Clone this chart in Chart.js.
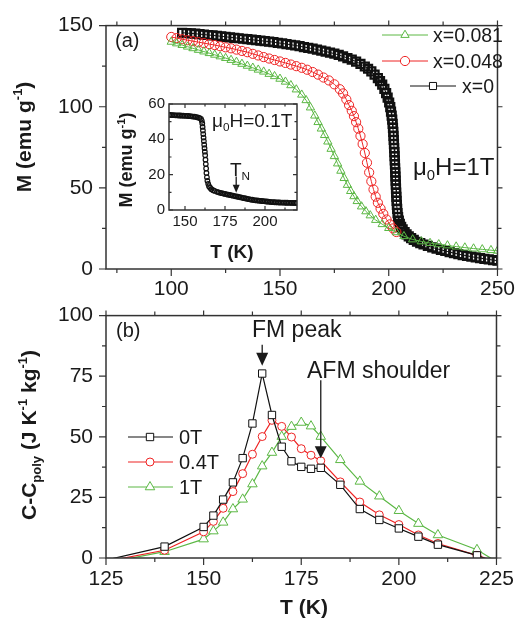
<!DOCTYPE html>
<html><head><meta charset="utf-8">
<script src="https://cdn.jsdelivr.net/npm/chart.js@4.4.1/dist/chart.umd.min.js"></script>
<style>
html,body{margin:0;padding:0;background:#fff;}
#wrap{position:relative;width:523px;height:619px;overflow:hidden;background:#fff;}
canvas{position:absolute;}
</style></head><body>
<div id="wrap">
<canvas id="cA" width="523" height="320" style="left:0;top:0;width:523px;height:320px"></canvas>
<canvas id="cB" width="523" height="329" style="left:0;top:290px;width:523px;height:329px"></canvas>
<canvas id="cI" width="210" height="175" style="left:100px;top:90px;width:210px;height:175px"></canvas>
</div>
<script>
// ---------- Panel (a): M vs T at 1 T ----------
const aGreenT = [100,102.5,105,107.5,110,112.5,115,117.5,120,122.5,125,127.5,130,132.5,135,137.5,140,142.5,145,147.5,150,152.5,155,157.5,160,
  162,164,166,167.5,169,170.5,172,173.5,175,176.5,178,179.5,181,182.5,184,185.5,187.5,189.5,191.5,194,197,200,203.5,207,211,
  215,219,223,227,231,235,239,243,247,250];
const aGreenM = [140,139,138,137,136,135,134,133,132,131,130,128.8,127.6,126.4,125.2,124,122.8,121.6,120.2,118.8,117.2,115.4,113.2,110.6,107.4,
  104,99.5,94.5,90.5,86.5,82.5,78.5,74,69.5,65,60.5,56,51.8,48,44.8,41.8,38.5,35.5,33,30.2,27.6,25.2,22.6,20.2,18.2,
  17,16,15.2,14.5,13.8,13.2,12.6,12.1,11.6,11.2];

const aRedT = [100,102.5,105,107.5,110,112.5,115,117.5,120,122.5,125,127.5,130,132.5,135,137.5,140,142.5,145,147.5,150,152.5,155,157.5,160,162.5,165,167.5,170,172.5,175,177.5,
  179,180.5,181.75,183,184,185,186,187,188,189,190,191,192,193,194,195,196.25,197.5,199,200.5,202,203.5];
const aRedM = [143,142.3,141.6,141,140.4,139.8,139.2,138.6,138,137.3,136.6,136,135.2,134.4,133.6,132.6,131.6,130.6,129.7,128.8,127.9,127,126,125,124,122.8,121.4,119.8,118,116.2,113.8,110.8,
  108.2,104.5,101,97.5,94.2,90.5,86.5,82,77,71.5,65.5,59.5,54,49,44.6,40.8,37.2,34,30.5,27.5,25,22.8];

const aBlackT = [105,107,109,111,113,115,117,119,121,123,125,127,129,131,133,135,137,139,141,143,145,147,149,151,153,155,157,159,161,163,165,167,169,171,173,175,177,179,181,183,185,187,189,190.5,192,193.5,195,196,197,198,198.8,199.5,
  200.2,200.7,201.05,201.35,201.6,201.8,201.95,202.1,202.2,202.3,202.4,202.5,202.6,202.7,202.78,202.86,202.94,203.02,203.1,203.18,203.26,203.34,203.42,203.52,203.62,203.74,203.88,204.05,204.3,204.65,205.1,205.7,206.4,
  207.3,208.2,209.2,210.3,211.5,213,214.5,216,218,220,222,224,226,228,230,232,234,236,238,240,242,244,246,248,250];
const aBlackM = [145.6,145.4,145.2,145,144.7,144.5,144.2,144,143.7,143.4,143.1,142.8,142.5,142.2,141.9,141.6,141.3,141,140.7,140.4,140.1,139.8,139.4,139,138.6,138.2,137.8,137.3,136.8,136.3,135.8,135.2,134.6,134,133.4,132.7,131.9,131,130,129,127.8,126.4,124.8,123.4,121.8,119.8,117.6,115.8,113.6,111,108.4,105.6,
  102.6,99.8,97,94.5,92,89.5,87,84.5,82,79.5,77,74.5,72,69.5,67,64.5,62,59.5,57,54.5,52,49.5,47,44.5,42,39.5,37,34.5,32,29.8,27.8,26,24.4,
  22.8,21.4,20.1,19,17.9,16.8,15.9,15.1,14.2,13.3,12.5,11.8,11.1,10.4,9.8,9.2,8.6,8.1,7.6,7.1,6.7,6.3,5.9,5.5,5.1];

const aLabels = ['x=0.081','x=0.048','x=0'];
const aXTicks = [100,150,200,250], aXMinor = [75,125,175,225];
const aYTicks = [0,50,100,150], aYMinor = [25,75,125];

// ---------- Inset: M vs T at 0.1 T ----------
const iT = [140,141,142,143,144,145,146,147,148,149,150,151,152,153,154,155,156,157,158,159,160,
  160.5,160.8,161,161.2,161.4,161.6,161.8,162,162.2,162.4,162.6,162.8,163,163.2,163.4,163.7,164,164.5,165,165.7,166.5,167.5,168.5,
  170,171,172,173,174,175,176,177,178,179,180,181,182,183,184,185,186,187,188,189,190,191,192,193,194,195,196,197,198,199,200,
  201,202,203,204,205,206,207,208,209,210,211,212,213,214,215,216,217,218,219,220];
const iM = [53.8,53.8,53.7,53.7,53.6,53.6,53.5,53.5,53.4,53.4,53.3,53.3,53.2,53.1,53,52.9,52.8,52.6,52.4,52.1,51.6,
  50.5,49,47,45,43,41,39,37,35,33,31,28.5,26,23.5,21,18.5,16.5,14.8,13.5,12.6,11.8,11.2,10.8,
  10.3,10,9.7,9.5,9.3,9.1,8.9,8.7,8.5,8.3,8.1,7.9,7.7,7.5,7.3,7.1,6.9,6.7,6.5,6.3,6.1,5.9,5.8,5.6,5.5,5.4,5.3,5.2,5.1,5,4.9,
  4.8,4.7,4.6,4.5,4.45,4.4,4.35,4.3,4.25,4.2,4.2,4.15,4.1,4.1,4.05,4.05,4,4,4,4];
const iXTicks = [150,175,200], iXMinor = [162.5,187.5,212.5];
const iYTicks = [0,20,40,60], iYMinor = [10,30,50];

// ---------- Panel (b): C - Cpoly vs T ----------
const bT0 = [126,140,150,152.5,155,157.5,160,162.5,165,167.5,170,172.5,175,177.5,180,185,190,195,200,205,210,220,222.5];
const bC0 = [-0.5,4.7,12.8,17.5,24.1,31.2,41.2,55.5,76.1,59,45.9,39.9,37.6,36.8,37.2,30.2,20.2,15.7,12.2,8.8,5.5,1.1,-0.5];
const bT04 = [128,140,150,152.5,155,157.5,160,162.5,165,167.5,170,172.5,175,177.5,180,185,190,195,200,205,210,220,223];
const bC04 = [-0.5,3.2,10.8,15.1,20.5,27.4,34.8,42.8,50.1,56.8,54.3,49.9,45.1,42.4,40.1,31.4,23.1,17.8,13.8,9.5,6,1.1,-0.5];
const bT1 = [130,140,150,152.5,155,157.5,160,162.5,165,167.5,170,172.5,175,177.5,180,185,190,195,200,205,210,220,224];
const bC1 = [-0.5,2.6,7.8,11.1,14.7,20.2,24.2,30.5,37.9,43.5,50.1,54.2,55.9,54.4,50.1,40.5,31.6,25.5,19.5,14.2,9.5,3.4,-0.5];
const bLabels = ['0T','0.4T','1T'];
const bXTicks = [125,150,175,200,225], bXMinor = [137.5,162.5,187.5,212.5];
const bYTicks = [0,25,50,75,100], bYMinor = [12.5,37.5,62.5,87.5];

// ---------- styling ----------
const FAM = "'Liberation Sans', Arial, Helvetica, sans-serif";
const AX = '#333333', TXT = '#1a1a1a';
const GREEN = '#5cb845', RED = '#ee2424', BLACK = '#111111';

const pts = (xs, ys) => xs.map((t, i) => ({x: t, y: ys[i]}));

function richText(ctx, x, y, parts, size, bold, rot, align) {
  ctx.save(); ctx.translate(x, y); ctx.rotate(rot || 0);
  ctx.fillStyle = TXT;
  const f = s => (bold ? 'bold ' : '') + s + 'px ' + FAM;
  let w = 0; const ws = [];
  parts.forEach(([t, m]) => { ctx.font = f(m ? size * 0.62 : size); const ww = ctx.measureText(t).width; ws.push(ww); w += ww; });
  let cx = align === 'left' ? 0 : -w / 2;
  ctx.textAlign = 'left'; ctx.textBaseline = 'alphabetic';
  const base = size * 0.36;
  parts.forEach(([t, m], i) => {
    ctx.font = f(m ? size * 0.62 : size);
    const dy = m === 1 ? size * 0.24 : (m === 2 ? -size * 0.42 : 0);
    ctx.fillText(t, cx, base + dy); cx += ws[i];
  });
  ctx.restore();
}

function mark(ctx, style, x, y, r, color, fill) {
  ctx.save(); ctx.strokeStyle = color; ctx.lineWidth = 1; ctx.beginPath();
  if (style === 'circle') ctx.arc(x, y, r, 0, Math.PI * 2);
  else if (style === 'rect') { const s = r * Math.SQRT1_2; ctx.rect(x - s, y - s, 2 * s, 2 * s); }
  else { for (let k = 0; k < 3; k++) { const an = k * 2 * Math.PI / 3; const px = x + Math.sin(an) * r, py = y - Math.cos(an) * r; k ? ctx.lineTo(px, py) : ctx.moveTo(px, py); } ctx.closePath(); }
  if (fill) { ctx.fillStyle = fill; ctx.fill(); }
  ctx.stroke(); ctx.restore();
}

function arrowDown(ctx, x, y1, y2, hl, hw) {
  ctx.save(); ctx.strokeStyle = TXT; ctx.fillStyle = TXT; ctx.lineWidth = 1.3;
  ctx.beginPath(); ctx.moveTo(x, y1); ctx.lineTo(x, y2 - hl + 1); ctx.stroke();
  ctx.beginPath(); ctx.moveTo(x - hw / 2, y2 - hl); ctx.lineTo(x + hw / 2, y2 - hl); ctx.lineTo(x, y2); ctx.closePath(); ctx.fill();
  ctx.restore();
}

function drawFrame(chart, o) {
  const {ctx, chartArea: a, scales: {x, y}} = chart;
  ctx.save(); ctx.strokeStyle = AX; ctx.lineWidth = 1.2; ctx.beginPath();
  const s = o.out ? 1 : -1;
  const seg = (x1, y1, x2, y2) => { ctx.moveTo(x1, y1); ctx.lineTo(x2, y2); };
  const xs = (vals, L, Lt) => vals.forEach(v => { const p = x.getPixelForValue(v); seg(p, a.bottom, p, a.bottom + s * L); seg(p, a.top, p, a.top - s * Lt); });
  const ys = (vals, L, Lt) => vals.forEach(v => { const p = y.getPixelForValue(v); seg(a.left, p, a.left - s * L, p); seg(a.right, p, a.right + s * Lt, p); });
  xs(o.xMajor, o.L, o.Lt); xs(o.xMinor, o.l, o.lt);
  ys(o.yMajor, o.L, o.Lt); ys(o.yMinor, o.l, o.lt);
  ctx.stroke();
  ctx.lineWidth = 1.5; ctx.strokeRect(a.left, a.top, a.right - a.left, a.bottom - a.top);
  ctx.restore();
}

function baseOpts(o) {
  const tickFont = {family: FAM, size: o.fs};
  return {
    responsive: false, animation: false, devicePixelRatio: 1,
    layout: {padding: o.pad},
    plugins: {legend: {display: false}, tooltip: {enabled: false}},
    elements: {line: {tension: 0}},
    scales: {
      x: {type: 'linear', min: o.xmin, max: o.xmax, grid: {display: false, drawTicks: false}, border: {display: false},
        afterFit: s => { s.height = o.xh; },
        afterBuildTicks: s => { s.ticks = o.xt.map(v => ({value: v})); },
        ticks: {font: tickFont, color: TXT, padding: o.xpad, maxRotation: 0, minRotation: 0, autoSkip: false}},
      y: {type: 'linear', min: o.ymin, max: o.ymax, grid: {display: false, drawTicks: false}, border: {display: false},
        afterFit: s => { s.width = o.yw; },
        afterBuildTicks: s => { s.ticks = o.yt.map(v => ({value: v})); },
        ticks: {font: tickFont, color: TXT, padding: o.ypad, autoSkip: false}}
    }
  };
}

// ---------- Chart A ----------
const optA = baseOpts({pad: {left: 0, right: 20, top: 20, bottom: 0}, fs: 21, xmin: 70, xmax: 250, ymin: 0, ymax: 150,
  xh: 51, yw: 106, xt: aXTicks, yt: aYTicks, xpad: 8, ypad: 13});
new Chart(document.getElementById('cA'), {
  type: 'scatter',
  data: {datasets: [
    {label: aLabels[0], data: pts(aGreenT, aGreenM), showLine: true, borderColor: GREEN, borderWidth: 1,
      pointStyle: 'triangle', pointRadius: 4.8, pointBorderWidth: 1, pointBorderColor: GREEN, pointBackgroundColor: 'rgba(0,0,0,0)'},
    {label: aLabels[1], data: pts(aRedT, aRedM), showLine: true, borderColor: RED, borderWidth: 1,
      pointStyle: 'circle', pointRadius: 4.6, pointBorderWidth: 1, pointBorderColor: RED, pointBackgroundColor: 'rgba(0,0,0,0)'},
    {label: aLabels[2], data: pts(aBlackT, aBlackM), showLine: true, borderColor: BLACK, borderWidth: 1,
      pointStyle: 'rect', pointRadius: 5.6, pointBorderWidth: 2.3, pointBorderColor: BLACK, pointBackgroundColor: 'rgba(0,0,0,0)'}
  ]},
  options: optA,
  plugins: [{id: 'decoA', afterDraw(chart) {
    const ctx = chart.ctx;
    drawFrame(chart, {out: true, xMajor: aXTicks, xMinor: aXMinor, yMajor: aYTicks, yMinor: aYMinor, L: 7, l: 4, Lt: 5, lt: 4});
    richText(ctx, 115, 40, [['(a)', 0]], 20, false, 0, 'left');
    richText(ctx, 413, 166, [['\u03bc', 0], ['0', 1], ['H=1T', 0]], 24, false, 0, 'left');
    richText(ctx, 23, 137, [['M (emu g', 0], ['-1', 2], [')', 0]], 21, true, -Math.PI / 2);
    const rows = [
      {y: 35, x1: 382, x2: 428, mx: 405, tx: 433, c: GREEN, st: 'triangle', r: 4.8},
      {y: 61, x1: 382, x2: 428, mx: 405, tx: 433, c: RED, st: 'circle', r: 4.6},
      {y: 86, x1: 410, x2: 456, mx: 433, tx: 462, c: BLACK, st: 'rect', r: 5}
    ];
    rows.forEach((r, i) => {
      ctx.save(); ctx.strokeStyle = r.c; ctx.lineWidth = 1; ctx.beginPath(); ctx.moveTo(r.x1, r.y); ctx.lineTo(r.x2, r.y); ctx.stroke(); ctx.restore();
      mark(ctx, r.st, r.mx, r.y, r.r, r.c, '#fff');
      richText(ctx, r.tx, r.y, [[aLabels[i], 0]], 19.5, false, 0, 'left');
    });
  }}]
});

// ---------- Inset ----------
const optI = baseOpts({pad: {left: 0, right: 13, top: 14, bottom: 0}, fs: 15, xmin: 140, xmax: 220, ymin: 0, ymax: 60,
  xh: 55, yw: 69, xt: iXTicks, yt: iYTicks, xpad: 3, ypad: 4});
new Chart(document.getElementById('cI'), {
  type: 'scatter',
  data: {datasets: [
    {label: 'x=0, 0.1T', data: pts(iT, iM), showLine: false, pointStyle: 'circle', pointRadius: 2.3, pointBorderWidth: 1.2,
      pointBorderColor: BLACK, pointBackgroundColor: 'rgba(0,0,0,0)'}
  ]},
  options: optI,
  plugins: [{id: 'decoI', afterDraw(chart) {
    const ctx = chart.ctx, x = chart.scales.x, y = chart.scales.y;
    drawFrame(chart, {out: false, xMajor: iXTicks, xMinor: iXMinor, yMajor: iYTicks, yMinor: iYMinor, L: 4, l: 2.5, Lt: 4, lt: 2.5});
    richText(ctx, 112, 30, [['\u03bc', 0], ['0', 1], ['H=0.1T', 0]], 19, false, 0, 'left');
    richText(ctx, 130, 79, [['T', 0], ['N', 1]], 19, false, 0, 'left');
    arrowDown(ctx, x.getPixelForValue(182), y.getPixelForValue(19), y.getPixelForValue(9.8), 8, 7);
    richText(ctx, 26, 70, [['M (emu g', 0], ['-1', 2], [')', 0]], 18, true, -Math.PI / 2);
    richText(ctx, 132, 161, [['T (K)', 0]], 19, true, 0);
  }}]
});

// ---------- Chart B ----------
const optB = baseOpts({pad: {left: 0, right: 20, top: 18, bottom: 0}, fs: 21, xmin: 125, xmax: 225, ymin: 0, ymax: 100,
  xh: 61, yw: 106, xt: bXTicks, yt: bYTicks, xpad: 9, ypad: 13});
const hideNeg = c => (c.raw && c.raw.y < 0) ? 0 : null;
new Chart(document.getElementById('cB'), {
  type: 'scatter',
  data: {datasets: [
    {label: bLabels[0], data: pts(bT0, bC0), showLine: true, borderColor: BLACK, borderWidth: 1.2,
      pointStyle: 'rect', pointRadius: c => hideNeg(c) ?? 5.2, pointBorderWidth: 1, pointBorderColor: BLACK, pointBackgroundColor: '#fff'},
    {label: bLabels[1], data: pts(bT04, bC04), showLine: true, borderColor: RED, borderWidth: 1.2,
      pointStyle: 'circle', pointRadius: c => hideNeg(c) ?? 4, pointBorderWidth: 1, pointBorderColor: RED, pointBackgroundColor: '#fff'},
    {label: bLabels[2], data: pts(bT1, bC1), showLine: true, borderColor: GREEN, borderWidth: 1.2,
      pointStyle: 'triangle', pointRadius: c => hideNeg(c) ?? 5.5, pointBorderWidth: 1, pointBorderColor: GREEN, pointBackgroundColor: '#fff'}
  ]},
  options: optB,
  plugins: [{id: 'decoB', afterDraw(chart) {
    const ctx = chart.ctx, x = chart.scales.x, y = chart.scales.y;
    drawFrame(chart, {out: true, xMajor: bXTicks, xMinor: bXMinor, yMajor: bYTicks, yMinor: bYMinor, L: 7, l: 4, Lt: 5, lt: 4});
    richText(ctx, 116, 40, [['(b)', 0]], 20, false, 0, 'left');
    richText(ctx, 252, 38.5, [['FM peak', 0]], 23, false, 0, 'left');
    richText(ctx, 307, 79.5, [['AFM shoulder', 0]], 23, false, 0, 'left');
    arrowDown(ctx, x.getPixelForValue(165), y.getPixelForValue(88), y.getPixelForValue(79.3), 13, 12);
    arrowDown(ctx, x.getPixelForValue(180), y.getPixelForValue(73.3), y.getPixelForValue(41.2), 12, 12);
    richText(ctx, 28, 145, [['C-C', 0], ['poly', 1], [' (J K', 0], ['-1', 2], [' kg', 0], ['-1', 2], [')', 0]], 21, true, -Math.PI / 2);
    richText(ctx, 304, 316, [['T (K)', 0]], 21, true, 0);
    const rows = [
      {y: 147, c: BLACK, st: 'rect', r: 5.2},
      {y: 172, c: RED, st: 'circle', r: 4},
      {y: 197, c: GREEN, st: 'triangle', r: 5.5}
    ];
    rows.forEach((r, i) => {
      ctx.save(); ctx.strokeStyle = r.c; ctx.lineWidth = 1.2; ctx.beginPath(); ctx.moveTo(128, r.y); ctx.lineTo(173, r.y); ctx.stroke(); ctx.restore();
      mark(ctx, r.st, 150, r.y, r.r, r.c, '#fff');
      richText(ctx, 179, r.y, [[bLabels[i], 0]], 20, false, 0, 'left');
    });
  }}]
});
</script>
</body></html>
